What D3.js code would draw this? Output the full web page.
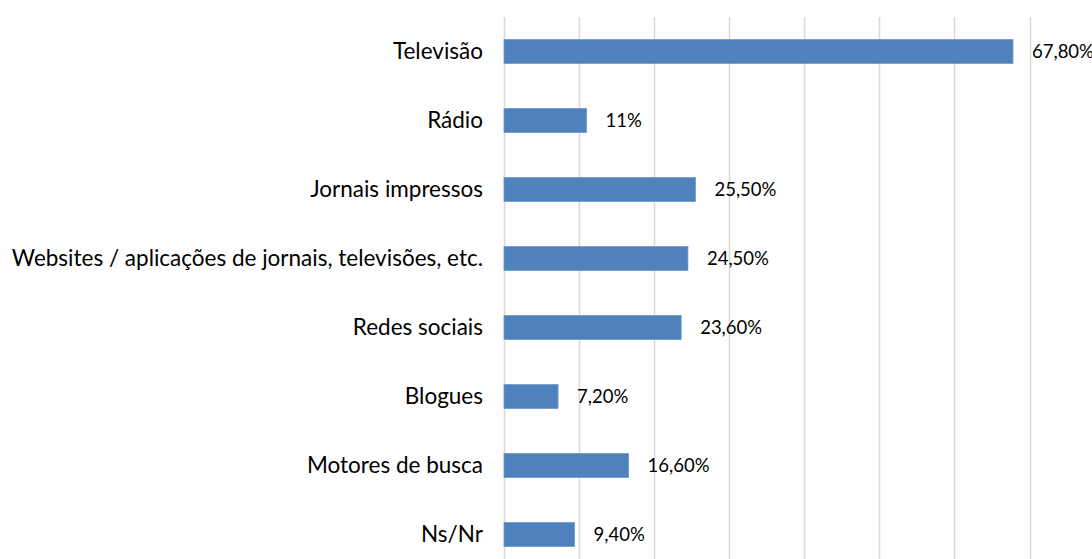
<!DOCTYPE html>
<html>
<head>
<meta charset="utf-8">
<script src="https://cdn.jsdelivr.net/npm/d3@7"></script>
<style>
  html, body { margin: 0; padding: 0; background: #fff; }
  svg { display: block; }
  .cat { font-family: Lato, "Open Sans", sans-serif; font-size: 22.5px; fill: #000; }
  .val { font-family: Lato, "Open Sans", sans-serif; font-size: 18.5px; fill: #000; }
</style>
</head>
<body>
<svg id="chart" width="1092" height="559"></svg>
<script>
'use strict';

/* data */
const categories = [
  'Televisão',
  'Rádio',
  'Jornais impressos',
  'Websites / aplicações de jornais, televisões, etc.',
  'Redes sociais',
  'Blogues',
  'Motores de busca',
  'Ns/Nr'
];
const values = [67.8, 11, 25.5, 24.5, 23.6, 7.2, 16.6, 9.4];
const valueLabels = ['67,80%', '11%', '25,50%', '24,50%', '23,60%', '7,20%', '16,60%', '9,40%'];
const gridTicks = [0, 10, 20, 30, 40, 50, 60, 70];

/* layout */
const plotLeft = 504, plotRight = 1029.5;
const plotTop = 17, step = 69;
const plotBottom = plotTop + step * categories.length;

const svg = d3.select('#chart');

const x = d3.scaleLinear().domain([0, 70]).range([plotLeft, plotRight]);
const y = d3.scaleBand()
  .domain(categories)
  .range([plotTop, plotBottom])
  .paddingInner(0.652)
  .paddingOuter(0.326);

// gridlines
svg.append('g')
  .selectAll('line')
  .data(gridTicks)
  .enter()
  .append('line')
  .attr('x1', d => Math.round(x(d)) + 0.5)
  .attr('x2', d => Math.round(x(d)) + 0.5)
  .attr('y1', plotTop)
  .attr('y2', plotBottom)
  .attr('stroke', '#d9d9d9')
  .attr('stroke-width', 1.5);

// bars
svg.append('g')
  .selectAll('rect')
  .data(values)
  .enter()
  .append('rect')
  .attr('x', x(0))
  .attr('y', (d, i) => y(categories[i]))
  .attr('width', d => x(d) - x(0))
  .attr('height', y.bandwidth())
  .attr('fill', '#4f81bd')
  .attr('stroke', '#6f97c9')
  .attr('stroke-width', 0.75);

// value labels
svg.append('g')
  .selectAll('text')
  .data(values)
  .enter()
  .append('text')
  .attr('class', 'val')
  .attr('x', d => x(d) + 19)
  .attr('y', (d, i) => y(categories[i]) + y.bandwidth() / 2)
  .attr('dy', '0.35em')
  .text((d, i) => valueLabels[i]);

// category labels
svg.append('g')
  .selectAll('text')
  .data(categories)
  .enter()
  .append('text')
  .attr('class', 'cat')
  .attr('x', plotLeft - 21)
  .attr('y', d => y(d) + y.bandwidth() / 2)
  .attr('dy', '0.35em')
  .attr('text-anchor', 'end')
  .text(d => d);
</script>
</body>
</html>
